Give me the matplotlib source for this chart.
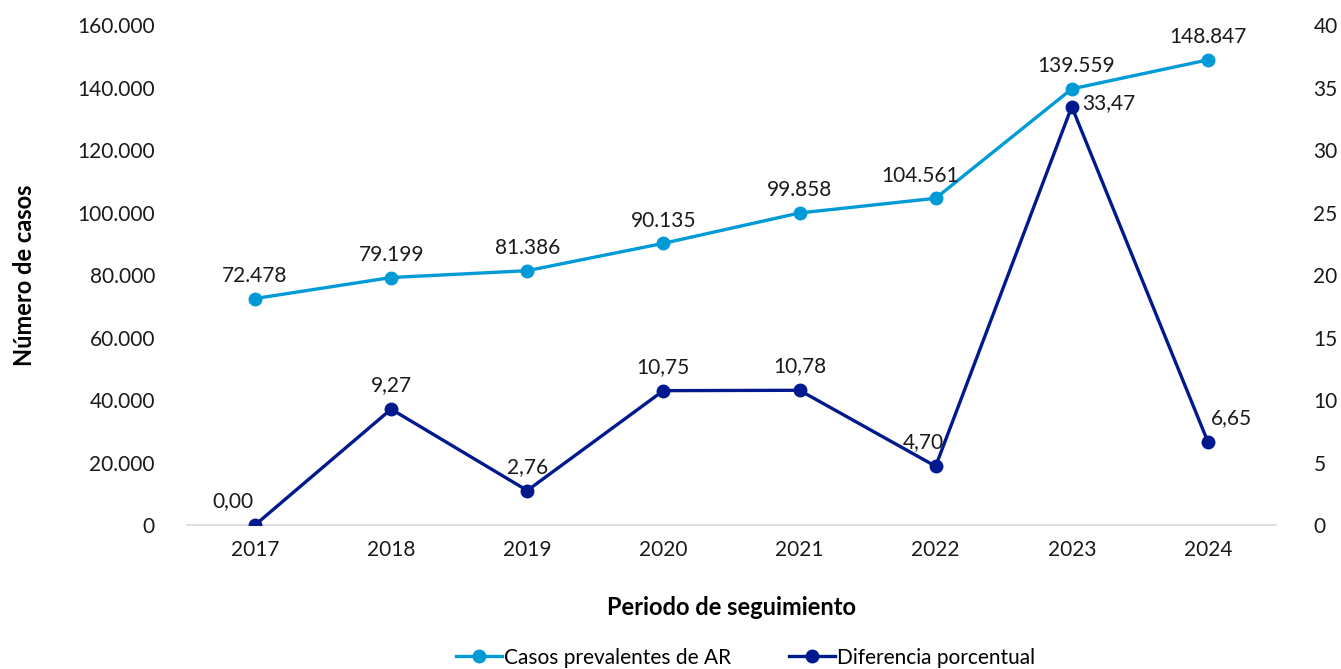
import matplotlib.pyplot as plt
from matplotlib.ticker import FuncFormatter

plt.rcParams['font.family'] = ['Lato', 'DejaVu Sans']

# data
years = ['2017', '2018', '2019', '2020', '2021', '2022', '2023', '2024']
casos = [72478, 79199, 81386, 90135, 99858, 104561, 139559, 148847]
diferencia = [0.00, 9.27, 2.76, 10.75, 10.78, 4.70, 33.47, 6.65]

# label offsets (points) for both series
casos_offsets = [(0, 9), (0, 9), (0, 9), (0, 9), (0, 9), (-11, 9), (3, 9), (0, 9)]
dif_offsets = [(-16, 10), (0, 10), (0, 10), (0, 10), (0, 10), (-9, 10), (27, -5), (17, 10)]

light = '#009BD6'
navy = '#001A8E'

fig = plt.figure(figsize=(13.41, 6.69), dpi=100)
ax = fig.add_axes([0.1394, 0.2152, 0.8121, 0.7474])
ax2 = ax.twinx()

x = range(len(years))
ax.plot(x, casos, color=light, lw=2.4, marker='o', ms=9, label='Casos prevalentes de AR', zorder=3)
ax2.plot(x, diferencia, color=navy, lw=2.4, marker='o', ms=9, label='Diferencia porcentual', zorder=3)

def miles(v):
    return f'{v:,.0f}'.replace(',', '.')

for i, v in enumerate(casos):
    dx, dy = casos_offsets[i]
    ax.annotate(miles(v), (i, v), xytext=(dx, dy), textcoords='offset points',
                ha='center', va='bottom', fontsize=15, color='#1a1a1a')
for i, v in enumerate(diferencia):
    dx, dy = dif_offsets[i]
    ax2.annotate(f'{v:.2f}'.replace('.', ','), (i, v), xytext=(dx, dy), textcoords='offset points',
                 ha='center', va='bottom', fontsize=15, color='#1a1a1a')

ax.set_xlim(-0.5, 7.5)
ax.set_ylim(0, 160000)
ax2.set_ylim(0, 40)
ax.set_yticks(range(0, 160001, 20000))
ax2.set_yticks(range(0, 41, 5))
ax.yaxis.set_major_formatter(FuncFormatter(lambda v, p: miles(v)))
ax.set_xticks(list(x))
ax.set_xticklabels(years)

for a in (ax, ax2):
    for s in a.spines.values():
        s.set_visible(False)
    a.tick_params(length=0, labelsize=15, colors='#1a1a1a')
ax.spines['bottom'].set_visible(True)
ax.spines['bottom'].set_color('#d9d9d9')
ax.spines['bottom'].set_linewidth(1.2)
ax.tick_params(axis='y', pad=23)
ax.tick_params(axis='x', pad=11)
ax2.tick_params(axis='y', pad=27)

ax.set_ylabel('Número de casos', fontsize=17, fontweight='bold', labelpad=30)
ax.set_xlabel('Periodo de seguimiento', fontsize=17, fontweight='bold', labelpad=26)

h1, l1 = ax.get_legend_handles_labels()
h2, l2 = ax2.get_legend_handles_labels()
fig.legend(h1 + h2, l1 + l2, loc='center', bbox_to_anchor=(0.556, 0.017), ncol=2,
           frameon=False, fontsize=15, handlelength=2.2, handletextpad=0.1, columnspacing=2.8)

fig.savefig('out.png', dpi=100)
